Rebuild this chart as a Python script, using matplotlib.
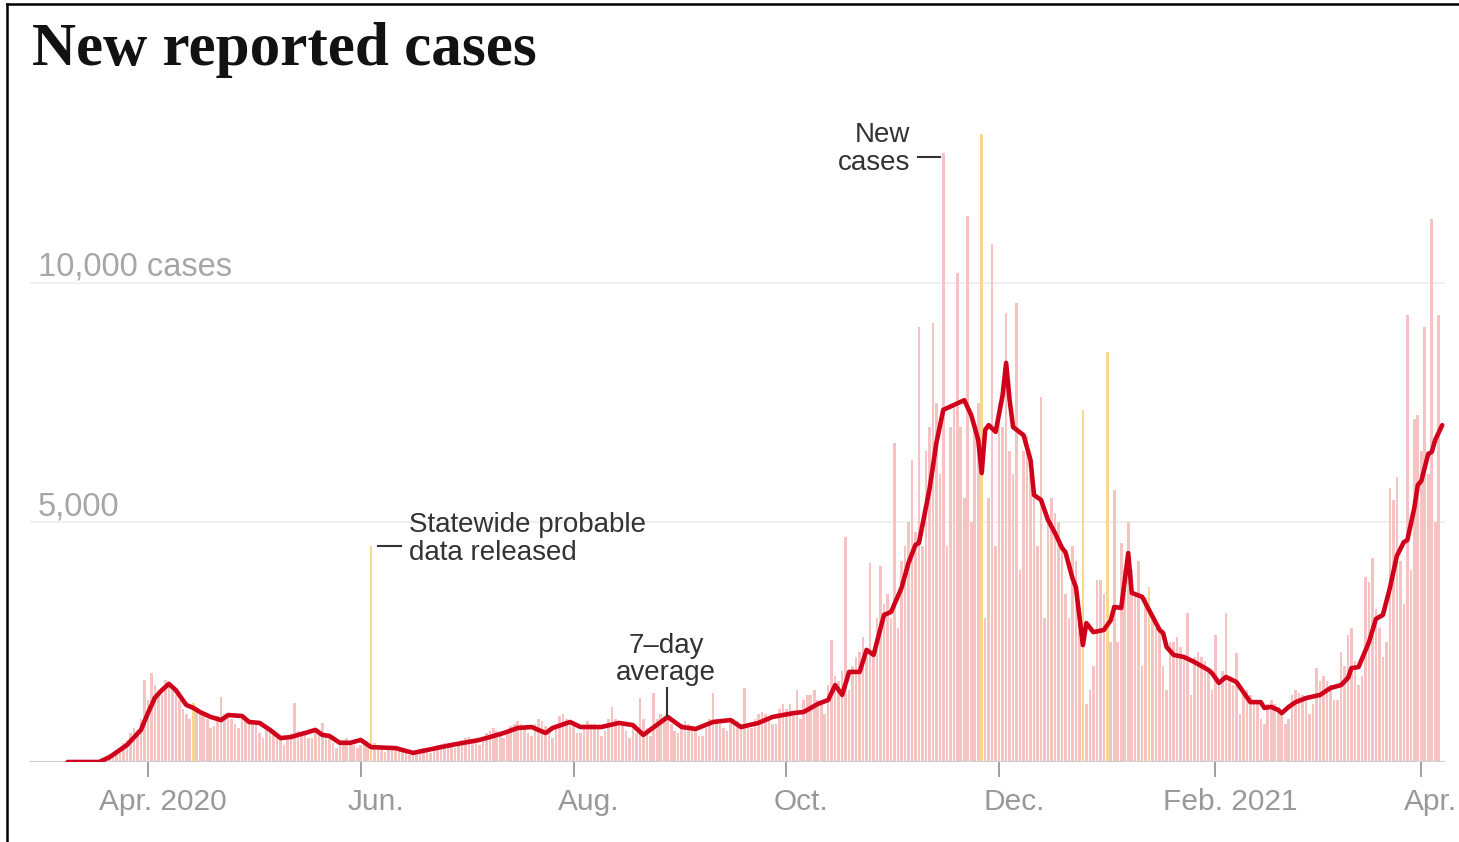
import matplotlib
matplotlib.use("Agg")
import matplotlib.pyplot as plt
import matplotlib.dates as mdates
from matplotlib.lines import Line2D
from matplotlib.transforms import ScaledTranslation
import pandas as pd

plt.rcParams["font.family"] = ["Liberation Sans", "DejaVu Sans"]

# ---------------------------------------------------------------------------
# Daily new reported cases, month by month, starting Monday 9 March 2020
# ---------------------------------------------------------------------------
start_date = "2020-03-09"

cases_2020_03 = [0, 0, 5, 10, 10, 15, 20,
                 20, 30, 50, 80, 120, 160, 180,
                 250, 300, 400, 450, 600, 700, 650,
                 900, 1710]
cases_2020_04 = [1300, 1860, 1600, 1500, 1400,
                 1710, 1650, 1500, 1400, 1300, 1100, 1000,
                 900, 1230, 1100, 1000, 950, 900, 700,
                 750, 950, 1360, 1000, 950, 900, 800,
                 700, 1000, 950, 900]
cases_2020_05 = [850, 800, 600,
                 500, 750, 700, 600, 550, 450, 350,
                 450, 600, 1230, 650, 600, 600, 500,
                 500, 700, 650, 810, 550, 500, 400,
                 300, 450, 450, 500, 400, 350, 300]
cases_2020_06 = [350, 400, 350, 4500, 400, 350, 250,
                 200, 300, 300, 320, 280, 250, 200,
                 150, 200, 250, 250, 300, 220, 180,
                 250, 350, 380, 400, 400, 350, 300,
                 350, 450]
cases_2020_07 = [500, 520, 480, 400, 350,
                 450, 600, 650, 700, 650, 600, 500,
                 600, 750, 800, 850, 800, 700, 600,
                 550, 800, 900, 850, 750, 700, 500,
                 700, 950, 1000, 900, 850]
cases_2020_08 = [750, 600,
                 600, 800, 850, 800, 800, 700, 550,
                 650, 900, 1150, 900, 850, 750, 650,
                 500, 800, 600, 1330, 900, 700, 550,
                 1440, 900, 1000, 950, 950, 800, 650,
                 600]
cases_2020_09 = [800, 850, 800, 750, 650, 550,
                 550, 700, 900, 1440, 900, 800, 700,
                 650, 850, 900, 850, 800, 1540, 700,
                 700, 900, 1000, 1050, 1000, 900, 800,
                 800, 1100, 1200]
cases_2020_10 = [1100, 1200, 1000, 1500,
                 900, 1300, 1400, 1400, 1500, 1300, 1200,
                 1000, 1600, 2540, 1800, 1700, 1900, 4700,
                 1500, 2000, 2200, 2300, 2600, 2200, 4150,
                 2200, 3000, 4100, 3300, 3500, 3000]
cases_2020_11 = [6650,
                 2800, 4200, 4500, 5000, 6300, 4800, 9080,
                 4500, 6500, 7000, 9160, 7500, 6000, 12700,
                 4500, 7000, 7500, 10200, 7000, 5500, 11400,
                 5000, 7000, 7500, 13100, 3000, 5500, 10800,
                 4500]
cases_2020_12 = [7500, 7000, 9370, 6500, 6000, 9580,
                 4000, 6500, 6800, 6000, 5500, 4500, 7620,
                 3000, 5000, 5500, 5200, 5000, 4500, 3500,
                 3000, 4500, 4200, 3000, 7350, 1200, 1500,
                 2000, 3800, 3800, 3500]
cases_2021_01 = [8560, 2500, 5680,
                 2500, 4570, 4000, 5000, 4000, 3500, 4200,
                 2000, 3440, 3650, 3000, 2800, 2800, 2000,
                 1500, 2500, 2500, 2600, 2400, 2200, 3100,
                 1400, 2200, 2300, 2200, 2100, 1900, 1500]
cases_2021_02 = [2650, 1700, 1900, 3100, 1800, 1600, 2270,
                 1000, 1400, 1500, 1400, 1300, 1200, 900,
                 800, 1200, 1300, 1200, 1150, 1000, 800,
                 900, 1400, 1500, 1450, 1400, 1300, 1000]
cases_2021_03 = [1200, 1960, 1700, 1800, 1700, 1600, 1300,
                 1300, 2290, 2000, 2650, 2800, 2100, 1600,
                 1800, 3860, 3760, 4260, 3200, 2800, 2200,
                 2500, 5720, 5470, 5950, 4200, 3300, 9330,
                 4000, 7160, 7240]
cases_2021_04 = [6500, 9080, 6000, 11330, 5000, 9330]

daily_cases = (cases_2020_03 + cases_2020_04 + cases_2020_05 + cases_2020_06
               + cases_2020_07 + cases_2020_08 + cases_2020_09 + cases_2020_10
               + cases_2020_11 + cases_2020_12 + cases_2021_01 + cases_2021_02
               + cases_2021_03 + cases_2021_04)

# Days with reporting irregularities (drawn in yellow, left out of the average)
flagged_days = ["2020-04-14", "2020-06-04", "2020-11-26",
                "2020-12-25", "2021-01-01", "2021-01-13"]

# 7-day average
avg_dates = [
    "2020-03-09", "2020-03-18", "2020-03-21", "2020-03-26", "2020-03-30",
    "2020-04-01", "2020-04-03", "2020-04-05", "2020-04-07", "2020-04-09",
    "2020-04-12", "2020-04-14", "2020-04-16", "2020-04-19", "2020-04-22",
    "2020-04-24", "2020-04-28", "2020-04-30", "2020-05-03", "2020-05-06",
    "2020-05-09", "2020-05-12", "2020-05-14", "2020-05-17", "2020-05-19",
    "2020-05-21", "2020-05-23", "2020-05-26", "2020-05-29", "2020-06-01",
    "2020-06-04", "2020-06-11", "2020-06-16", "2020-06-27", "2020-07-05",
    "2020-07-08", "2020-07-12", "2020-07-16", "2020-07-20", "2020-07-24",
    "2020-07-26", "2020-07-31", "2020-08-03", "2020-08-09", "2020-08-14",
    "2020-08-18", "2020-08-21", "2020-08-28", "2020-09-01", "2020-09-05",
    "2020-09-10", "2020-09-15", "2020-09-18", "2020-09-23", "2020-09-27",
    "2020-10-03", "2020-10-06", "2020-10-10", "2020-10-13", "2020-10-15",
    "2020-10-17", "2020-10-19", "2020-10-22", "2020-10-24", "2020-10-26",
    "2020-10-29", "2020-10-31", "2020-11-03", "2020-11-05", "2020-11-07",
    "2020-11-08", "2020-11-11", "2020-11-12", "2020-11-13", "2020-11-15",
    "2020-11-18", "2020-11-21", "2020-11-23", "2020-11-25", "2020-11-26",
    "2020-11-27", "2020-11-28", "2020-11-30", "2020-12-02", "2020-12-03",
    "2020-12-04", "2020-12-05", "2020-12-08", "2020-12-10", "2020-12-11",
    "2020-12-13", "2020-12-15", "2020-12-17", "2020-12-19", "2020-12-20",
    "2020-12-22", "2020-12-23", "2020-12-25", "2020-12-26", "2020-12-28",
    "2020-12-31", "2021-01-02", "2021-01-03", "2021-01-05", "2021-01-07",
    "2021-01-08", "2021-01-11", "2021-01-13", "2021-01-16", "2021-01-17",
    "2021-01-18", "2021-01-20", "2021-01-23", "2021-01-26", "2021-01-30",
    "2021-01-31", "2021-02-02", "2021-02-04", "2021-02-07", "2021-02-09",
    "2021-02-11", "2021-02-14", "2021-02-15", "2021-02-17", "2021-02-19",
    "2021-02-20", "2021-02-22", "2021-02-24", "2021-02-27", "2021-03-03",
    "2021-03-06", "2021-03-09", "2021-03-11", "2021-03-12", "2021-03-14",
    "2021-03-17", "2021-03-19", "2021-03-21", "2021-03-23", "2021-03-25",
    "2021-03-27", "2021-03-28", "2021-03-30", "2021-03-31", "2021-04-01",
    "2021-04-03", "2021-04-04", "2021-04-05", "2021-04-07",
]
avg_values = [
    0, 0, 100, 355, 670,
    1020, 1340, 1500, 1630, 1500,
    1190, 1130, 1040, 940, 875,
    980, 960, 835, 815, 670,
    500, 520, 565, 625, 670,
    565, 545, 400, 400, 460,
    310, 290, 190, 355, 460,
    520, 605, 710, 730, 605,
    710, 835, 730, 730, 815,
    770, 565, 940, 730, 690,
    835, 875, 730, 815, 940,
    1020, 1045, 1210, 1295, 1605,
    1400, 1880, 1880, 2340, 2235,
    3070, 3130, 3630, 4150, 4530,
    4570, 5680, 6160, 6660, 7350,
    7450, 7550, 7240, 6720, 6030,
    6930, 7030, 6890, 7660, 8330,
    7550, 6990, 6820, 6300, 5570,
    5470, 5050, 4780, 4470, 4380,
    3840, 3650, 2440, 2900, 2710,
    2755, 2960, 3235, 3215, 4360,
    3530, 3445, 3170, 2755, 2690,
    2400, 2235, 2190, 2085, 1920,
    1855, 1650, 1775, 1670, 1460,
    1250, 1250, 1130, 1150, 1085,
    1020, 1150, 1250, 1335, 1400,
    1545, 1605, 1755, 1960, 1980,
    2500, 2985, 3070, 3630, 4300,
    4590, 4630, 5300, 5780, 5865,
    6430, 6470, 6720, 7030,
]

tick_dates = ["2020-04-01", "2020-06-01", "2020-08-01", "2020-10-01",
              "2020-12-01", "2021-02-01", "2021-04-01"]
tick_labels = ["Apr. 2020", "Jun.", "Aug.", "Oct.", "Dec.", "Feb. 2021", "Apr."]
grid_values = [5000, 10000]
grid_labels = ["5,000", "10,000 cases"]

# ---------------------------------------------------------------------------
W, H = 1459, 842
fig = plt.figure(figsize=(W / 100, H / 100), dpi=100)
fig.patch.set_facecolor("white")


def fig_xy(x, y):
    """Pixel position (from top-left) to figure fraction."""
    return x / W, 1 - y / H


ax = fig.add_axes([30 / W, (H - 762) / H, (1445 - 30) / W, 662 / H])

dates = pd.date_range(start_date, periods=len(daily_cases), freq="D")
flag_set = set(pd.to_datetime(flagged_days))
bar_colors = ["#f6d98e" if d in flag_set else "#f6c3c3" for d in dates]
ax.bar(dates, daily_cases, width=0.74, color=bar_colors, linewidth=0,
       zorder=1)

ax.plot(pd.to_datetime(avg_dates), avg_values, color="#d0021b", lw=3.3,
        solid_joinstyle="round", solid_capstyle="round", zorder=3)

anchor = pd.Timestamp("2020-04-01")
ax.set_xlim(mdates.date2num(anchor - pd.Timedelta(days=33.8)),
            mdates.date2num(anchor + pd.Timedelta(days=371.8)))
ax.set_ylim(0, 13815)

for v, lab in zip(grid_values, grid_labels):
    ax.axhline(v, color="#ececec", lw=1.2, zorder=0)
    ax.text(8 / 1415, v + 150, lab, transform=ax.get_yaxis_transform(),
            fontsize=23.5, color="#a6a6a6", va="baseline", ha="left",
            zorder=4)
ax.axhline(0, color="#cfcfcf", lw=1.6, zorder=2)

for s in ax.spines.values():
    s.set_visible(False)
ax.set_yticks([])
ax.set_xticks([mdates.date2num(pd.Timestamp(d)) for d in tick_dates])
ax.set_xticklabels(tick_labels, fontsize=21.5, color="#999999")
ax.tick_params(axis="x", length=10.5, width=1.3, color="#999999", pad=8)
labels = ax.get_xticklabels()
for i, lab in enumerate(labels):
    dx = 9 if i == len(labels) - 1 else 15
    lab.set_transform(lab.get_transform()
                      + ScaledTranslation(dx / 100, 0, fig.dpi_scale_trans))

# Title
fig.text(*fig_xy(32, 65), "New reported cases", fontfamily="Liberation Serif",
         fontweight="bold", fontsize=44, color="#121212", va="baseline",
         ha="left")

# Annotations
note = dict(fontsize=20, color="#333333", va="baseline")
fig.text(*fig_xy(910, 142), "New", ha="right", **note)
fig.text(*fig_xy(910, 170), "cases", ha="right", **note)
fig.add_artist(Line2D([918 / W, 940 / W], [1 - 157 / H] * 2,
                      color="#333333", lw=1.5, transform=fig.transFigure))

fig.text(*fig_xy(409, 532), "Statewide probable", ha="left", **note)
fig.text(*fig_xy(409, 560), "data released", ha="left", **note)
fig.add_artist(Line2D([378 / W, 401 / W], [1 - 546 / H] * 2,
                      color="#333333", lw=1.5, transform=fig.transFigure))

fig.text(*fig_xy(666, 653), "7\u2013day", ha="center", **note)
fig.text(*fig_xy(666, 680), "average", ha="center", **note)
fig.add_artist(Line2D([667 / W] * 2, [1 - 688 / H, 1 - 716 / H],
                      color="#333333", lw=1.5, transform=fig.transFigure))

# Frame
fig.add_artist(Line2D([7 / W, 7 / W], [0, 1 - 4 / H], color="black", lw=1.8,
                      transform=fig.transFigure))
fig.add_artist(Line2D([7 / W, 1], [1 - 4 / H, 1 - 4 / H], color="black",
                      lw=1.8, transform=fig.transFigure))

fig.savefig("out.png", dpi=100, facecolor="white")
